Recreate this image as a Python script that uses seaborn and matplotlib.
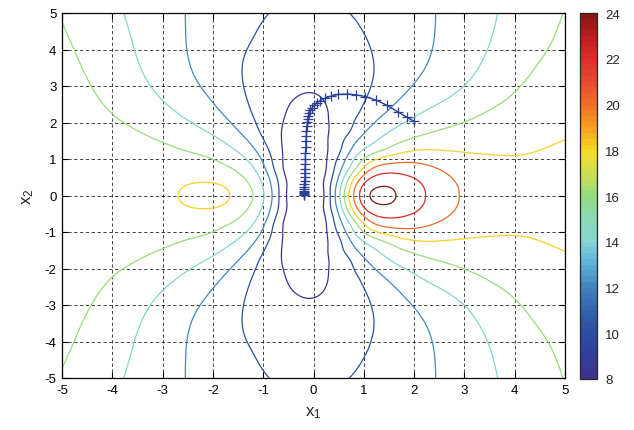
import numpy as np
import pandas as pd
import matplotlib
matplotlib.use("Agg")
import matplotlib.pyplot as plt
from matplotlib.colors import LinearSegmentedColormap, Normalize
from matplotlib.cm import ScalarMappable
import seaborn as sns

# ---------------------------------------------------------------------------
# Contour traces of the objective in the upper half-plane (the surface is
# mirror-symmetric in x2), a few spot values, and the descent iterates.
# ---------------------------------------------------------------------------
levels = np.arange(8, 25, 2)

trace_08 = [(-0.57, 0.00), (-0.62, 0.70), (-0.64, 1.50), (-0.58, 2.10), (-0.45, 2.55),
            (-0.25, 2.76), (-0.05, 2.81), (0.12, 2.73), (0.25, 2.50), (0.30, 2.00),
            (0.28, 1.40), (0.26, 0.70), (0.24, 0.00)]
trace_10 = [(-0.88, 5.00), (-1.20, 4.30), (-1.40, 3.70), (-1.39, 3.00), (-1.25, 2.34),
            (-1.03, 1.61), (-0.83, 0.98), (-0.71, 0.43), (-0.67, 0.00),
            (0.71, 5.00), (1.00, 4.44), (1.16, 3.90), (1.19, 3.25), (1.06, 2.70),
            (0.92, 2.30), (0.72, 1.70), (0.54, 1.12), (0.40, 0.55), (0.33, 0.00)]
trace_12 = [(-2.55, 5.00), (-2.52, 4.00), (-2.38, 3.30), (-2.20, 2.90), (-2.00, 2.55),
            (-1.58, 1.90), (-1.25, 1.43), (-1.02, 0.98), (-0.88, 0.52), (-0.82, 0.00),
            (2.43, 5.00), (2.36, 4.00), (2.22, 3.50), (2.00, 3.07), (1.50, 2.35),
            (1.02, 1.75), (0.77, 1.38), (0.57, 0.90), (0.46, 0.45), (0.42, 0.00)]
trace_14 = [(-3.77, 5.00), (-3.62, 4.30), (-3.45, 3.55), (-3.10, 2.75), (-2.60, 2.15),
            (-2.25, 1.85), (-2.00, 1.66), (-1.58, 1.27), (-1.25, 0.88), (-1.07, 0.50),
            (-0.98, 0.00),
            (3.66, 5.00), (3.46, 4.00), (3.00, 3.00), (2.60, 2.60), (2.25, 2.35),
            (1.56, 1.81), (1.00, 1.26), (0.71, 0.71), (0.57, 0.30), (0.52, 0.00)]
trace_16 = [(-4.98, 4.68), (-4.76, 4.00), (-4.42, 3.00), (-4.00, 2.23), (-3.50, 1.78),
            (-3.00, 1.46), (-2.50, 1.20), (-2.00, 1.00), (-1.75, 0.82), (-1.45, 0.56),
            (-1.27, 0.25), (-1.19, 0.00),
            (0.62, 0.00), (0.70, 0.40), (0.90, 0.73), (1.36, 1.17), (1.90, 1.53),
            (2.40, 1.75), (3.00, 2.02), (3.50, 2.35), (4.05, 2.90), (4.40, 3.50),
            (4.65, 3.98), (4.95, 4.96)]
trace_18 = [(-5.00, 0.00), (-2.70, 0.00), (-2.55, 0.25), (-2.17, 0.35), (-1.80, 0.26),
            (-1.65, 0.00),
            (0.70, 0.00), (0.77, 0.44), (0.97, 0.80), (1.36, 1.08), (2.00, 1.24),
            (2.50, 1.24), (3.00, 1.18), (3.50, 1.12), (4.00, 1.09), (4.30, 1.15),
            (4.60, 1.30), (5.00, 1.53)]
trace_20 = [(0.79, 0.00), (0.86, 0.35), (1.00, 0.60), (1.30, 0.82), (1.83, 0.91),
            (2.30, 0.82), (2.65, 0.60), (2.85, 0.30), (2.89, 0.00)]
trace_22 = [(0.90, 0.00), (0.97, 0.26), (1.15, 0.48), (1.63, 0.60), (2.00, 0.48),
            (2.18, 0.25), (2.23, 0.00)]
trace_24 = [(1.13, 0.00), (1.19, 0.15), (1.37, 0.23), (1.57, 0.16), (1.63, 0.00)]

traces = {8: trace_08, 10: trace_10, 12: trace_12, 14: trace_14, 16: trace_16,
          18: trace_18, 20: trace_20, 22: trace_22, 24: trace_24}

# spot values (x1, x2, f, weight)
spot_values = [(1.38, 0.0, 24.7, 1.0), (-2.17, 0.0, 18.5, 1.0), (-0.15, 0.0, 6.5, 0.3),
               (-3.80, 0.0, 17.3, 0.5), (3.80, 0.0, 19.3, 0.5), (5.00, 0.0, 19.4, 0.5),
               (-0.10, 4.3, 9.0, 0.2), (-5.00, 2.5, 17.2, 0.2), (5.00, 3.2, 17.0, 0.2)]

# gradient-descent iterates
traj_x1 = [2.00, 1.85, 1.68, 1.46, 1.25, 1.03, 0.84, 0.67, 0.49, 0.34, 0.22, 0.13,
           0.06, 0.01, -0.03, -0.06, -0.08, -0.10, -0.11, -0.12, -0.13, -0.14, -0.14,
           -0.15, -0.15, -0.16, -0.16, -0.16, -0.17, -0.17, -0.17, -0.17, -0.18, -0.18,
           -0.18, -0.18, -0.18, -0.18, -0.18, -0.18, -0.18]
traj_x2 = [2.03, 2.15, 2.29, 2.47, 2.61, 2.71, 2.76, 2.78, 2.77, 2.72, 2.66, 2.60,
           2.53, 2.47, 2.40, 2.33, 2.26, 2.18, 2.10, 2.01, 1.90, 1.77, 1.63, 1.48,
           1.32, 1.16, 1.01, 0.87, 0.73, 0.61, 0.50, 0.40, 0.31, 0.24, 0.18, 0.13,
           0.09, 0.06, 0.04, 0.02, 0.01]

cbar_ticks = [8, 10, 12, 14, 16, 18, 20, 22, 24]
scale_colors = ["#3d338f", "#30409a", "#2c4fa1", "#3366ad", "#4285c0", "#5ab3d9",
                "#85d4d6", "#88dbb3", "#94db80", "#cce052", "#f7db26", "#f7a021",
                "#f07326", "#e64d2e", "#de302b", "#bf1f1f", "#851717"]

# ---------------------------------------------------------------------------
# Smooth surface through the traces: Gaussian tensor basis (symmetric in x2)
# with a thin-plate bending penalty.
# ---------------------------------------------------------------------------
sp = 0.25
cx = np.arange(-5.75, 5.75 + 1e-9, sp)
cy = np.arange(0.0, 5.75 + 1e-9, sp)
sig = sp


def _g(u, d):
    g = np.exp(-0.5 * u ** 2)
    if d == 0:
        return g
    if d == 1:
        return -u / sig * g
    return (u ** 2 - 1) / sig ** 2 * g


def basis_x(x, d=0):
    u = (np.asarray(x, float)[:, None] - cx[None, :]) / sig
    return _g(u, d)


def basis_y(y, d=0):
    y = np.asarray(y, float)[:, None]
    out = _g((y - cy[None, :]) / sig, d) + _g((y + cy[None, :]) / sig, d)
    out[:, 0] *= 0.5
    return out


ncx, ncy = cx.size, cy.size
xs = np.linspace(-5, 5, 101)
ys = np.linspace(0, 5, 51)
dA = (xs[1] - xs[0]) * (ys[1] - ys[0])
Bx = [basis_x(xs, d) for d in range(3)]
By = [basis_y(ys, d) for d in range(3)]
P = (np.kron(By[0].T @ By[0], Bx[2].T @ Bx[2])
     + 2.0 * np.kron(By[1].T @ By[1], Bx[1].T @ Bx[1])
     + np.kron(By[2].T @ By[2], Bx[0].T @ Bx[0])) * dA

samples = [(x, y, float(lv), 1.0) for lv, pts in traces.items() for (x, y) in pts]
samples += spot_values
S = np.array(samples)
ax_rows = basis_x(S[:, 0])
ay_rows = basis_y(np.abs(S[:, 1]))
A = np.einsum("nk,ni->nki", ay_rows, ax_rows).reshape(len(S), -1)
W = S[:, 3]

lam = 2.5e-3
lhs = A.T @ (A * W[:, None]) + lam * P + 1e-9 * np.eye(ncx * ncy)
coef = np.linalg.solve(lhs, A.T @ (W * S[:, 2]))
C = coef.reshape(ncy, ncx).T

xe = np.linspace(-5, 5, 401)
ye = np.linspace(-5, 5, 401)
Z = (basis_x(xe) @ C @ basis_y(ye).T).T

# ---------------------------------------------------------------------------
# Figure
# ---------------------------------------------------------------------------
sns.set_style("ticks")
plt.rcParams["font.family"] = ["Liberation Sans", "DejaVu Sans"]
plt.rcParams["axes.unicode_minus"] = False

cmap = LinearSegmentedColormap.from_list(
    "scale", list(zip(np.linspace(0, 1, len(scale_colors)), scale_colors)), N=64)
norm = Normalize(vmin=8, vmax=24)

fig = plt.figure(figsize=(6.34, 4.31), dpi=100)
ax = fig.add_axes([62 / 634, 1 - 379 / 431, 503 / 634, 365 / 431])
cax = fig.add_axes([580 / 634, 1 - 380 / 431, 17 / 634, 366 / 431])

ax.contour(xe, ye, Z, levels=levels, cmap=cmap, norm=norm, linewidths=0.9, zorder=2)

path = pd.DataFrame({"x1": traj_x1, "x2": traj_x2})
line_color = "#2c3f96"
sns.lineplot(data=path, x="x1", y="x2", sort=False, estimator=None, ax=ax,
             color=line_color, linewidth=1.0, marker="+", markersize=6.5,
             markeredgecolor=line_color, markeredgewidth=0.9, zorder=3)

ax.set_xlim(-5, 5)
ax.set_ylim(-5, 5)
ax.set_xticks(np.arange(-5, 6))
ax.set_yticks(np.arange(-5, 6))
ax.grid(True, color="black", linestyle=(0, (4, 3)), linewidth=0.6, alpha=0.85)
ax.tick_params(direction="in", top=True, right=True, length=4, width=0.8,
               labelsize=9.5, pad=4, colors="black")
for sp_ in ax.spines.values():
    sp_.set_linewidth(0.9)
    sp_.set_color("black")
ax.set_xlabel(r"$\mathregular{x_1}$", fontsize=12, labelpad=6)
ax.set_ylabel(r"$\mathregular{x_2}$", fontsize=12, labelpad=6)

cb = fig.colorbar(ScalarMappable(norm=norm, cmap=cmap), cax=cax, ticks=cbar_ticks)
cb.outline.set_linewidth(0.9)
cax.tick_params(direction="in", left=True, right=True, length=3, width=0.8,
                labelsize=9.5, pad=6)

fig.savefig("out.png", dpi=100)
